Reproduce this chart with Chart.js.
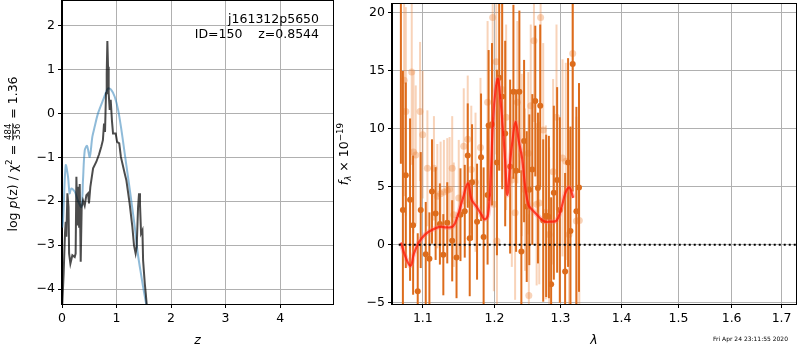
<!DOCTYPE html>
<html>
<head>
<meta charset="utf-8">
<script src="https://cdn.jsdelivr.net/npm/chart.js@4.4.3/dist/chart.umd.min.js"></script>
<style>
  html, body { margin: 0; padding: 0; background: #fff; }
  #wrap { position: relative; width: 800px; height: 350px; overflow: hidden; }
  canvas { position: absolute; top: 0; }
  #left { left: 0; }
  #right { left: 334px; }
</style>
</head>
<body>
<div id="wrap">
  <canvas id="left" width="334" height="350"></canvas>
  <canvas id="right" width="466" height="350"></canvas>
</div>
<script>
// ---- data: p(z) panel ----
const zTicks = [0, 1, 2, 3, 4];
const logpTicks = [-4, -3, -2, -1, 0, 1, 2];

// smooth curve (light blue)
const zBlue = [0.005, 0.02, 0.068, 0.11, 0.14, 0.17, 0.233, 0.29, 0.356, 0.385, 0.417, 0.459, 0.508, 0.557, 0.6, 0.66, 0.752, 0.845, 0.906, 0.967, 1.03, 1.09, 1.15, 1.21, 1.27, 1.334, 1.39, 1.457, 1.50, 1.56];
const lpBlue = [-2.6, -2.43, -1.18, -1.44, -1.82, -1.71, -1.78, -1.98, -2.13, -1.52, -0.84, -0.74, -0.99, -0.53, -0.3, 0, 0.30, 0.57, 0.53, 0.38, 0.075, -0.38, -0.91, -1.44, -1.98, -2.58, -3.19, -3.72, -4.04, -4.45];

// noisy curve (dark)
const zDark = [0.005, 0.03, 0.055, 0.068, 0.08, 0.099, 0.12, 0.13, 0.154, 0.19, 0.233, 0.25, 0.264, 0.282, 0.30, 0.314, 0.325, 0.343, 0.361, 0.385, 0.416, 0.447, 0.478, 0.495, 0.52, 0.57, 0.63, 0.68, 0.72, 0.75, 0.771, 0.789, 0.807, 0.82, 0.832, 0.844, 0.856, 0.875, 0.893, 0.917, 0.936, 0.985, 1.01, 1.05, 1.08, 1.15, 1.18, 1.24, 1.29, 1.32, 1.35, 1.37, 1.395, 1.413, 1.43, 1.45, 1.475, 1.487, 1.518, 1.536, 1.56];
const lpDark = [-4.35, -3.65, -2.73, -2.47, -2.81, -1.82, -2.13, -3.19, -3.42, -3.23, -3.27, -3.19, -1.44, -2.55, -1.67, -2.58, -1.61, -3.38, -2.13, -1.98, -2.1, -1.86, -1.82, -2.05, -1.67, -1.25, -1.1, -0.93, -0.76, -0.61, -0.23, -0.42, 0.46, 0.91, 1.65, 1.06, 0.46, 0.08, 0.31, -0.18, -0.46, -0.46, -0.65, -0.68, -0.99, -1.37, -1.52, -2.05, -2.58, -3.0, -3.19, -3.04, -2.13, -1.82, -2.05, -2.73, -2.66, -3.34, -3.87, -4.1, -4.45];

// ---- data: spectrum panel ----
const lamTicks = [1.1, 1.2, 1.3, 1.4, 1.5, 1.6, 1.7];
const fluxTicks = [-5, 0, 5, 10, 15, 20];

// dark points
const lamA = [1.0711, 1.0737, 1.0775, 1.0831, 1.0871, 1.0932, 1.0972, 1.1039, 1.1088, 1.1123, 1.1172, 1.1230, 1.1277, 1.1331, 1.1399, 1.1459, 1.1514, 1.1574, 1.1616, 1.1644, 1.1677, 1.1748, 1.1805, 1.1842, 1.1899, 1.1914, 1.1963, 1.2035, 1.2068, 1.2112, 1.2156, 1.2229, 1.2278, 1.2318, 1.2367, 1.2397, 1.2438, 1.2478, 1.2517, 1.2563, 1.2608, 1.2649, 1.2684, 1.2730, 1.2776, 1.2818, 1.2853, 1.2895, 1.2947, 1.2989, 1.3073, 1.3120, 1.3158, 1.3194, 1.3253, 1.3295];
const fluxA = [22, 3, 6.0, 3.9, 1.7, -4.0, 3.0, -0.8, -1.2, 4.6, 2.7, 1.8, -0.85, 1.9, 0.35, -1.1, 2.6, 2.9, 7.7, 0.57, 5.4, 2.0, 7.55, 0.68, 4.3, 10.3, 10.4, 7.1, 14.4, 12.8, 9.6, 6.75, 13.2, 6.4, 13.2, -0.57, 8.95, 3.3, 4.75, 6.5, 12.4, 4.9, 12.0, 2.1, 2.5, 2.4, -3.4, 4.5, 5.6, 3.0, -2.3, 7.1, 1.2, 15.6, 2.9, 4.95];
const errA = [15, 12, 8, 7, 6, 5, 5, 4.5, 4, 4.5, 4, 3.5, 3.5, 3.5, 3.5, 3.5, 4, 4, 4.5, 5, 5, 5, 5.5, 6, 6, 6.5, 7, 8, 8, 8, 8, 7.5, 7.5, 7, 7, 7, 7, 6.5, 6.5, 6.5, 6.5, 6.5, 7, 7, 7, 7, 7.5, 7.5, 8, 8, 8.5, 9, 9, 11, 9, 9];

// faint points
const lamB = [1.0753, 1.0775, 1.0853, 1.0876, 1.0906, 1.0963, 1.0998, 1.1061, 1.1149, 1.1195, 1.1240, 1.1285, 1.1331, 1.1363, 1.1399, 1.1421, 1.1490, 1.1560, 1.1616, 1.1666, 1.1726, 1.1797, 1.1899, 1.1973, 1.1990, 1.2025, 1.2035, 1.2108, 1.2170, 1.2254, 1.2303, 1.2337, 1.2403, 1.2452, 1.2502, 1.2510, 1.2539, 1.2588, 1.2629, 1.2669, 1.2690, 1.2730, 1.2771, 1.2823, 1.2884, 1.2937, 1.3032, 1.3084, 1.3135, 1.3194, 1.3253, 1.3300];
const fluxB = [14.2, 11.5, 14.9, 8.0, 7.75, 11.5, 9.5, 6.6, 6.6, 4.2, 4.4, 4.55, 4.7, 4.8, 6.6, 2.6, 4.05, 8.5, 9.1, 6.5, 5.4, 8.4, 12.3, 19.6, 3.5, 15.8, 0.34, 13.4, 11.0, 5.6, 2.76, 12.3, 7.75, 4.76, 7.9, -4.36, 12.0, 17.6, 3.5, 3.6, 19.6, 9.9, 2.8, 0.9, 6.3, 11.0, 7.5, 7.2, 0.9, 16.5, 2.05, 2.1];
const errB = [10, 9, 8, 7, 6, 6, 5.5, 5, 4.5, 4.5, 4.5, 4.5, 4.5, 4.5, 4.5, 4.5, 5, 5, 5.5, 5.5, 6, 6, 7, 7.5, 7.5, 8, 8, 8, 8, 7.5, 7.5, 7, 7, 7, 7, 7, 7, 7, 7, 7, 7.5, 7.5, 7.5, 7.5, 8, 8, 8.5, 8.5, 9, 10, 9, 8];

// model line (red)
const lamModel = [1.0711, 1.0775, 1.0838, 1.0880, 1.0945, 1.1032, 1.1142, 1.1231, 1.1321, 1.1410, 1.1480, 1.1550, 1.1620, 1.1670, 1.1740, 1.1811, 1.1858, 1.1906, 1.1945, 1.1977, 1.2016, 1.2049, 1.2085, 1.2122, 1.2156, 1.2188, 1.2230, 1.2262, 1.2310, 1.2360, 1.2407, 1.2457, 1.2507, 1.2557, 1.2633, 1.2734, 1.2837, 1.2938, 1.3014, 1.3080, 1.3140, 1.3202];
const fluxModel = [0.2, -1.1, -1.8, -0.8, 0.2, 0.9, 1.35, 1.55, 1.5, 1.6, 2.6, 4.05, 5.3, 3.9, 3.3, 2.6, 2.2, 2.6, 6.0, 10.6, 13.4, 14.3, 12.6, 10.0, 7.2, 4.3, 7.2, 8.9, 10.6, 8.9, 7.5, 4.9, 3.4, 3.05, 2.6, 2.05, 2.0, 2.1, 3.2, 4.5, 4.95, 4.05];

const zeroLam = [1.0683, 1.75];
const zeroFlux = [0, 0];

// ---- helpers ----
const FONT = "'DejaVu Sans', sans-serif";
Chart.defaults.font.family = FONT;
Chart.defaults.font.size = 12.5;
Chart.defaults.color = '#000';

const xy = (xs, ys) => xs.map((v, i) => ({x: v, y: ys[i]}));
// fixed axis thickness, no extra label padding so the plot box sits where it should
const fixSize = n => s => {
  if (s.isHorizontal()) s.height = n; else s.width = n;
  s.paddingTop = 0; s.paddingBottom = 0; s.paddingLeft = 0; s.paddingRight = 0;
};
const useTicks = vals => s => { s.ticks = vals.map(v => ({value: v})); };
const numFmt = d => v => (v < 0 ? '\u2212' : '') + Math.abs(v).toFixed(d);

const GRID = {color: '#b0b0b0', lineWidth: 1, tickColor: '#000', tickLength: 4};

function axis(type, min, max, ticks, size, dec){
  return {
    type, min, max,
    afterBuildTicks: useTicks(ticks),
    afterFit: fixSize(size),
    grid: GRID,
    border: {color: '#000', width: 1},
    ticks: {padding: 3, autoSkip: false, maxRotation: 0, callback: numFmt(dec), font: {size: 12.5}}
  };
}

// rich text: parts are {t, it, sc, dy} or {frac:[a,b]}
function drawRich(ctx, parts, cx, cy, rot, base){
  ctx.save();
  ctx.translate(cx, cy);
  ctx.rotate(rot);
  ctx.textBaseline = 'alphabetic';
  ctx.textAlign = 'left';
  ctx.fillStyle = '#000';
  const fnt = p => (p.it ? 'italic ' : '') + (base * (p.sc || 1)) + 'px ' + FONT;
  let total = 0;
  parts.forEach(p => {
    if (p.frac) {
      ctx.font = (base * 0.68) + 'px ' + FONT;
      p.w = Math.max(ctx.measureText(p.frac[0]).width, ctx.measureText(p.frac[1]).width) + 2;
    } else {
      ctx.font = fnt(p);
      p.w = ctx.measureText(p.t).width;
    }
    total += p.w;
  });
  let x = -total / 2;
  const bl = base * 0.36;
  parts.forEach(p => {
    if (p.frac) {
      const axisY = bl - base * 0.3;
      ctx.font = (base * 0.68) + 'px ' + FONT;
      ctx.textAlign = 'center';
      ctx.fillText(p.frac[0], x + p.w / 2, axisY - 1.3);
      ctx.fillText(p.frac[1], x + p.w / 2, axisY + 1.3 + base * 0.68 * 0.73);
      ctx.textAlign = 'left';
      ctx.fillRect(x + 0.5, axisY - 0.4, p.w - 1, 0.8);
    } else {
      ctx.font = fnt(p);
      ctx.fillText(p.t, x, bl + (p.dy || 0));
    }
    x += p.w;
  });
  ctx.restore();
}

const frame = {
  id: 'frame',
  afterDraw(chart){
    const {ctx, chartArea: a} = chart;
    ctx.save();
    ctx.strokeStyle = '#000';
    ctx.lineWidth = 1;
    ctx.strokeRect(Math.round(a.left) - 0.5, Math.round(a.top) - 0.5, Math.round(a.right - a.left) + 1, Math.round(a.bottom - a.top) + 1);
    ctx.restore();
  }
};

const errorBars = {
  id: 'errorBars',
  beforeDatasetDraw(chart, args){
    const ds = chart.data.datasets[args.index];
    if (!ds.errors) return;
    const {ctx, chartArea: a, scales: {x, y}} = chart;
    ctx.save();
    ctx.beginPath();
    ctx.rect(a.left, a.top, a.right - a.left, a.bottom - a.top);
    ctx.clip();
    ctx.strokeStyle = ds.errColor;
    ctx.lineWidth = ds.errWidth;
    ds.data.forEach((p, i) => {
      const px = x.getPixelForValue(p.x);
      ctx.beginPath();
      ctx.moveTo(px, y.getPixelForValue(p.y - ds.errors[i]));
      ctx.lineTo(px, y.getPixelForValue(p.y + ds.errors[i]));
      ctx.stroke();
    });
    ctx.restore();
  }
};

// ---- left: p(z) ----
const leftLabels = {
  id: 'leftLabels',
  afterDraw(chart){
    const {ctx, chartArea: a} = chart;
    ctx.save();
    ctx.fillStyle = '#000';
    ctx.font = '12.5px ' + FONT;
    ctx.textAlign = 'right';
    ctx.textBaseline = 'middle';
    ctx.fillText('j161312p5650', a.right - 14, 20);
    ctx.fillText('ID=150    z=0.8544', a.right - 14, 35);
    ctx.textAlign = 'center';
    ctx.font = 'italic 12.5px ' + FONT;
    ctx.fillText('z', (a.left + a.right) / 2, 341);
    ctx.restore();
    drawRich(ctx, [
      {t: 'log '}, {t: 'p', it: true}, {t: '(z) / \u03c7'}, {t: '2', sc: 0.7, dy: -5},
      {t: ' = '}, {frac: ['484', '356']}, {t: ' = 1.36'}
    ], 12, 154, -Math.PI / 2, 12.5);
  }
};

new Chart(document.getElementById('left'), {
  type: 'scatter',
  data: {
    datasets: [
      {data: xy(zDark, lpDark), showLine: true, borderColor: 'rgba(0,0,0,0.7)', borderWidth: 2, pointRadius: 0},
      {data: xy(zBlue, lpBlue), showLine: true, tension: 0.3, borderColor: 'rgba(31,119,180,0.5)', borderWidth: 2, pointRadius: 0}
    ]
  },
  options: {
    responsive: false, animation: false, devicePixelRatio: 1,
    layout: {padding: {left: 0, top: 1, right: 1, bottom: 0}},
    plugins: {legend: {display: false}, tooltip: {enabled: false}},
    scales: {
      x: axis('linear', 0, 4.97, zTicks, 46, 0),
      y: axis('linear', -4.34, 2.56, logpTicks, 62, 0)
    }
  },
  plugins: [frame, leftLabels]
});

// ---- right: spectrum ----
const DARK = 'rgb(221,108,28)';
const FAINT = 'rgba(236,140,70,0.38)';

const rightLabels = {
  id: 'rightLabels',
  afterDraw(chart){
    const {ctx, chartArea: a} = chart;
    ctx.save();
    ctx.fillStyle = '#000';
    ctx.textAlign = 'center';
    ctx.textBaseline = 'middle';
    ctx.font = 'italic 12.5px ' + FONT;
    ctx.fillText('\u03bb', (a.left + a.right) / 2, 341);
    ctx.font = '6px ' + FONT;
    ctx.textAlign = 'right';
    ctx.fillText('Fri Apr 24 23:11:55 2020', 454, 339);
    ctx.restore();
    drawRich(ctx, [
      {t: 'f', it: true}, {t: '\u03bb', it: true, sc: 0.7, dy: 3}, {t: ' \u00d7 10'}, {t: '\u221219', sc: 0.7, dy: -5}
    ], 9, 154, -Math.PI / 2, 12.5);
  }
};

new Chart(document.getElementById('right'), {
  type: 'scatter',
  data: {
    datasets: [
      {data: xy(zeroLam, zeroFlux), showLine: true, borderColor: '#000', borderWidth: 2, borderDash: [2, 3], pointRadius: 0},
      {data: xy(lamModel, fluxModel), showLine: true, tension: 0.4, borderColor: 'rgba(255,20,0,0.75)', borderWidth: 2.2, pointRadius: 0},
      {data: xy(lamModel, fluxModel), showLine: true, tension: 0.4, borderColor: 'rgba(255,110,110,0.35)', borderWidth: 5, pointRadius: 0},
      {data: xy(lamA, fluxA), errors: errA, errColor: DARK, errWidth: 2, pointRadius: 3, pointBackgroundColor: DARK, pointBorderWidth: 0},
      {data: xy(lamB, fluxB), errors: errB, errColor: FAINT, errWidth: 2, pointRadius: 3.5, pointBackgroundColor: FAINT, pointBorderWidth: 0}
    ]
  },
  options: {
    responsive: false, animation: false, devicePixelRatio: 1,
    layout: {padding: {left: 0, top: 1, right: 1, bottom: 0}},
    plugins: {legend: {display: false}, tooltip: {enabled: false}},
    scales: {
      x: axis('logarithmic', 1.0596, 1.730, lamTicks, 46, 1),
      y: axis('linear', -5.1, 20.77, fluxTicks, 58, 0)
    }
  },
  plugins: [frame, errorBars, rightLabels]
});
</script>
</body>
</html>
